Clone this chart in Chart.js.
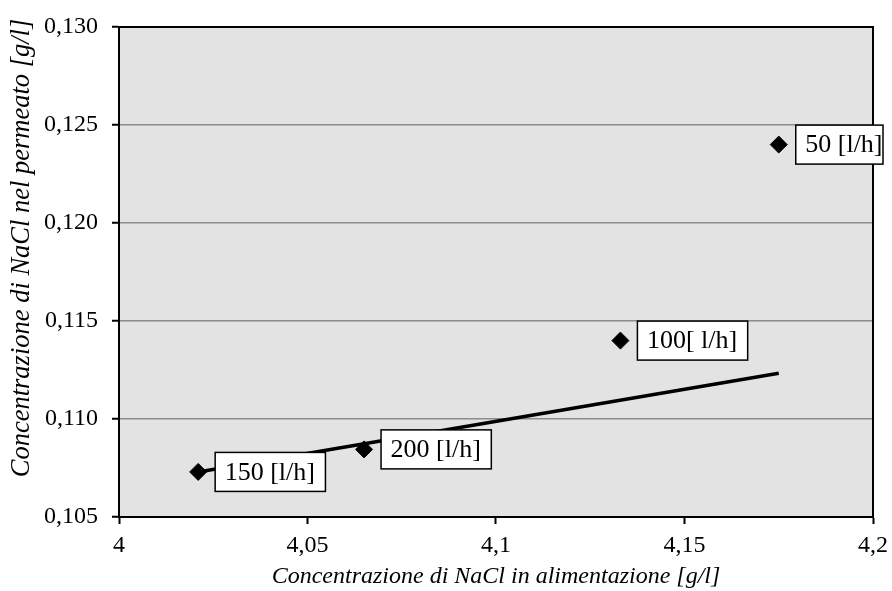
<!DOCTYPE html>
<html>
<head>
<meta charset="utf-8">
<script src="https://cdn.jsdelivr.net/npm/chart.js@4/dist/chart.umd.min.js"></script>
<style>
html,body{margin:0;padding:0;background:#fff;}
#wrap{width:892px;height:591px;position:relative;}
</style>
</head>
<body>
<div id="wrap"><canvas id="c" width="892" height="591"></canvas></div>
<script>
// ---- data ----
const feedConc = [4.021, 4.065, 4.133, 4.175];          // x: NaCl in alimentazione [g/l]
const permeateConc = [0.1073, 0.10845, 0.1140, 0.1240];  // y: NaCl nel permeato [g/l]
const pointLabels = ['150 [l/h]', '200 [l/h]', '100[ l/h]', '50 [l/h]'];
const trendX = [4.021, 4.175];
const trendY = [0.1073, 0.11233];
const xTickLabels = ['4', '4,05', '4,1', '4,15', '4,2'];
const yTickLabels = ['0,105', '0,110', '0,115', '0,120', '0,125', '0,130'];
const xMin = 4, xMax = 4.2, xStep = 0.05;
const yMin = 0.105, yMax = 0.130, yStep = 0.005;
const xTitle = 'Concentrazione di NaCl in alimentazione [g/l]';
const yTitle = 'Concentrazione di NaCl nel permeato [g/l]';

const SERIF = "'Liberation Serif', 'Times New Roman', serif";

const bgPlugin = {
  id: 'plotBg',
  beforeDraw(chart) {
    const {ctx, chartArea: a} = chart;
    ctx.save();
    ctx.fillStyle = '#e3e3e3';
    ctx.fillRect(a.left, a.top, a.right - a.left, a.bottom - a.top);
    ctx.restore();
  },
  beforeDatasetsDraw(chart) {
    const {ctx, chartArea: a} = chart;
    ctx.save();
    ctx.strokeStyle = '#000';
    ctx.lineWidth = 2;
    ctx.strokeRect(a.left, a.top, a.right - a.left, a.bottom - a.top);
    ctx.restore();
  },
  afterDraw(chart) {
    // y axis title (placed as in the original, slightly above plot centre)
    const {ctx, chartArea: a} = chart;
    ctx.save();
    ctx.translate(22, (a.top + a.bottom) / 2 - 24);
    ctx.rotate(-Math.PI / 2);
    ctx.font = 'italic 26.5px ' + SERIF;
    ctx.textAlign = 'center';
    ctx.textBaseline = 'middle';
    ctx.fillStyle = '#000';
    ctx.fillText(yTitle, 0, 0);
    ctx.restore();
  }
};

const labelPlugin = {
  id: 'boxLabels',
  afterDatasetsDraw(chart) {
    const {ctx} = chart;
    const meta = chart.getDatasetMeta(1);
    ctx.save();
    ctx.font = '26px ' + SERIF;
    ctx.textBaseline = 'middle';
    ctx.textAlign = 'left';
    meta.data.forEach((pt, i) => {
      const txt = pointLabels[i];
      const bx = pt.x + 17;
      const w = Math.min(ctx.measureText(txt).width + 20, chart.width - 9 - bx);
      const h = 39;
      const by = pt.y - h / 2;
      ctx.fillStyle = '#fff';
      ctx.fillRect(bx, by, w, h);
      ctx.strokeStyle = '#000';
      ctx.lineWidth = 1.5;
      ctx.strokeRect(bx, by, w, h);
      ctx.fillStyle = '#000';
      ctx.fillText(txt, bx + 9.5, pt.y + 1);
    });
    ctx.restore();
  }
};

new Chart(document.getElementById('c'), {
  type: 'scatter',
  data: {
    datasets: [
      {
        type: 'line',
        data: trendX.map((x, i) => ({x, y: trendY[i]})),
        borderColor: '#000',
        borderWidth: 3.5,
        pointRadius: 0,
        fill: false
      },
      {
        data: feedConc.map((x, i) => ({x, y: permeateConc[i]})),
        pointStyle: 'rectRot',
        pointRadius: 8.5,
        pointHoverRadius: 8.5,
        backgroundColor: '#000',
        borderColor: '#000',
        borderWidth: 1
      }
    ]
  },
  options: {
    responsive: false,
    animation: false,
    devicePixelRatio: 1,
    layout: {padding: {left: 0, top: 27, right: 19, bottom: 0}},
    plugins: {legend: {display: false}, tooltip: {enabled: false}},
    scales: {
      x: {
        type: 'linear',
        min: xMin, max: xMax,
        afterFit(s) { s.height = 74; s.paddingLeft = 0; s.paddingRight = 0; },
        afterBuildTicks(s) {
          s.ticks = xTickLabels.map((_, i) => ({value: xMin + i * xStep}));
        },
        ticks: {
          color: '#000',
          font: {family: SERIF, size: 24},
          padding: 7,
          maxRotation: 0,
          callback: (v, i) => xTickLabels[i]
        },
        grid: {drawOnChartArea: false, drawTicks: true, tickLength: 7, tickColor: '#000', tickWidth: 2},
        border: {color: '#000', width: 2},
        title: {
          display: true,
          text: xTitle,
          color: '#000',
          font: {family: SERIF, size: 24, style: 'italic'},
          padding: {top: 0, bottom: 0}
        }
      },
      y: {
        type: 'linear',
        min: yMin, max: yMax,
        afterFit(s) { s.width = 119; s.paddingTop = 0; s.paddingBottom = 0; },
        afterBuildTicks(s) {
          s.ticks = yTickLabels.map((_, i) => ({value: yMin + i * yStep}));
        },
        ticks: {
          color: '#000',
          font: {family: SERIF, size: 24},
          padding: 14,
          callback: (v, i) => yTickLabels[i]
        },
        grid: {color: '#8c8c8c', lineWidth: 1.5, drawTicks: true, tickLength: 7, tickColor: '#000', tickWidth: 2},
        border: {color: '#000', width: 2},
        title: {display: false}
      }
    }
  },
  plugins: [bgPlugin, labelPlugin]
});
</script>
</body>
</html>
